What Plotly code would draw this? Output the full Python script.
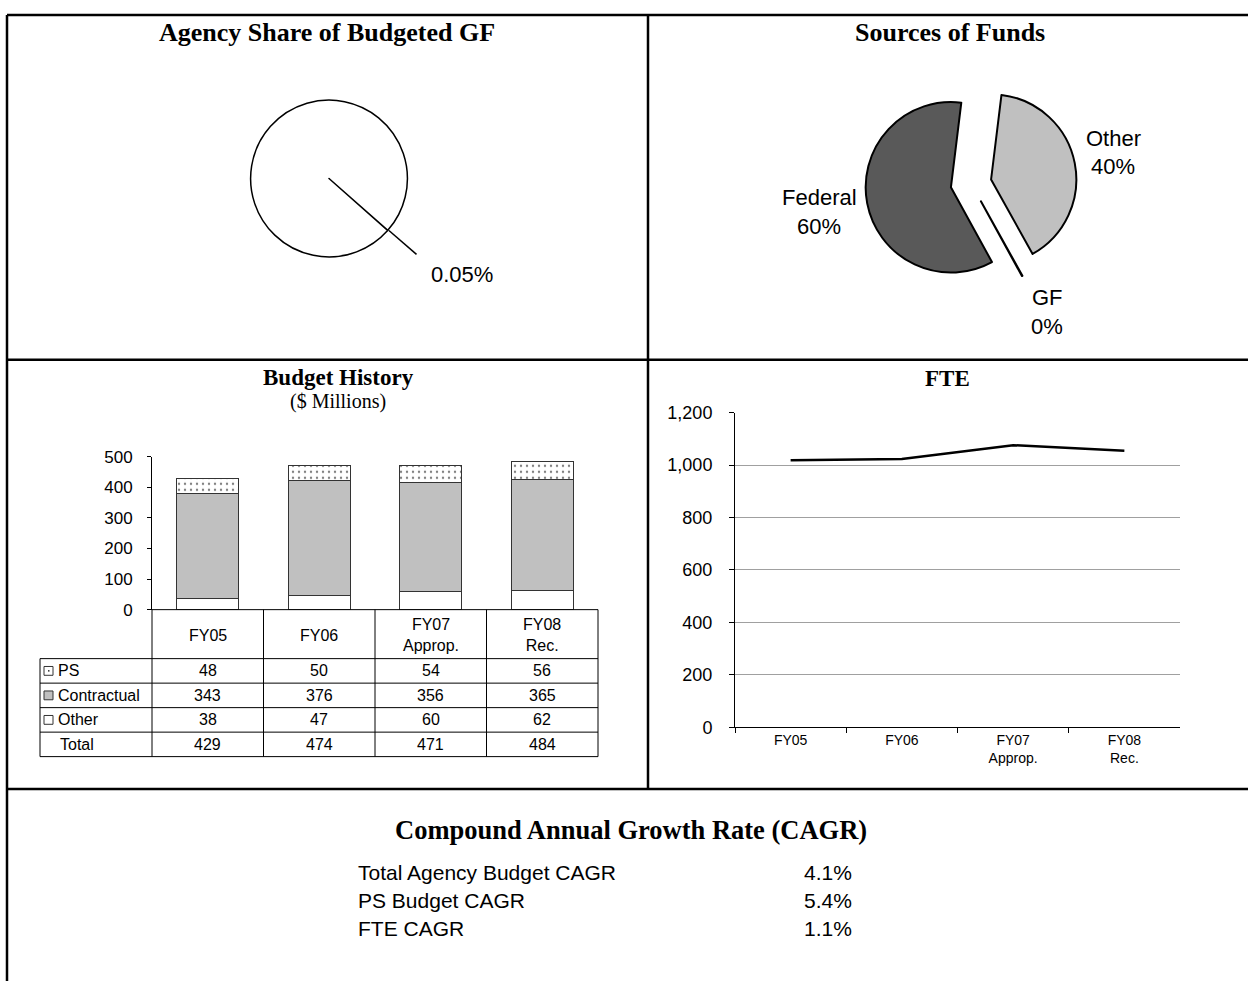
import math
import plotly.graph_objects as go

W, H = 1248, 991

# ---------------- data ----------------
gf_share_labels = ["Agency", "Rest of GF"]
gf_share_values = [0.05, 99.95]
gf_share_text = "0.05%"

fund_labels = ["Other", "GF", "Federal"]
fund_values = [40, 0.1, 60]
fund_pct_text = ["40%", "0%", "60%"]
fund_colors = ["#c0c0c0", "#ffffff", "#595959"]

years = ["FY05", "FY06", "FY07<br>Approp.", "FY08<br>Rec."]
ps = [48, 50, 54, 56]
contractual = [343, 376, 356, 365]
other = [38, 47, 60, 62]
total = [429, 474, 471, 484]

fte = [1019, 1023, 1076, 1055]

cagr_labels = ["Total Agency Budget CAGR", "PS Budget CAGR", "FTE CAGR"]
cagr_values = ["4.1%", "5.4%", "1.1%"]

SANS = "Liberation Sans, Arial, sans-serif"
SERIF = "Liberation Serif, Times New Roman, serif"


def px(x):
    return x / W


def py(y):
    return 1 - y / H


fig = go.Figure()
shapes = []
annots = []


def title(text, x, y, size=26, bold=True, family=SERIF):
    annots.append(dict(text=("<b>%s</b>" % text) if bold else text, x=px(x), y=py(y),
                       xref="paper", yref="paper", showarrow=False,
                       xanchor="center", yanchor="middle",
                       font=dict(family=family, size=size, color="black")))


def label(text, x, y, size=21, anchor="center"):
    annots.append(dict(text=text, x=px(x), y=py(y), xref="paper", yref="paper",
                       showarrow=False, xanchor=anchor, yanchor="middle",
                       font=dict(family=SANS, size=size, color="black")))


def line(x0, y0, x1, y1, w=2.5, color="black"):
    shapes.append(dict(type="line", xref="paper", yref="paper",
                       x0=px(x0), y0=py(y0), x1=px(x1), y1=py(y1),
                       line=dict(color=color, width=w), layer="above"))


# ---------------- panel borders ----------------
line(7, 5, W, 5)
line(7, 5, 7, H)
line(648, 5, 648, 795)
line(7, 357, W, 357)
line(7, 795, W, 795)

# ---------------- pie 1: agency share of GF ----------------
p1_cx, p1_cy, p1_r = 329, 172, 80
p1_rot = 131.4
fig.add_trace(go.Pie(
    labels=gf_share_labels, values=gf_share_values, sort=False,
    direction="clockwise", rotation=p1_rot, textinfo="none", hoverinfo="skip",
    marker=dict(colors=["white", "white"], line=dict(color="black", width=1.5)),
    domain=dict(x=[px(p1_cx - p1_r), px(p1_cx + p1_r)], y=[py(p1_cy + p1_r), py(p1_cy - p1_r)]),
    showlegend=False))
mid_ang = math.radians(p1_rot + 0.5 * gf_share_values[0] / sum(gf_share_values) * 360)
lx0 = p1_cx + p1_r * math.sin(mid_ang)
ly0 = p1_cy - p1_r * math.cos(mid_ang)
lx1 = p1_cx + 1.46 * p1_r * math.sin(mid_ang)
ly1 = p1_cy - 1.46 * p1_r * math.cos(mid_ang)
line(lx0, ly0, lx1, ly1, w=1.5)
label(gf_share_text, 462, 270, size=22)
title("Agency Share of Budgeted GF", 327, 23)

# ---------------- pie 2: sources of funds ----------------
p2_cx, p2_cy, p2_r, pull = 971, 177, 87, 0.24
half = p2_r * (1 + pull)
fig.add_trace(go.Pie(
    labels=fund_labels, values=fund_values, sort=False,
    direction="clockwise", rotation=7, textinfo="none", hoverinfo="skip",
    pull=[pull] * len(fund_values),
    marker=dict(colors=fund_colors, line=dict(color="black", width=2)),
    domain=dict(x=[px(p2_cx - half), px(p2_cx + half)], y=[py(p2_cy + half), py(p2_cy - half)]),
    showlegend=False))
fund_label_pos = {"Other": (1113, 131, 160), "GF": (1047, 293, 323), "Federal": (819, 191, 221)}
for lab, pct in zip(fund_labels, fund_pct_text):
    x, y1, y2 = fund_label_pos[lab]
    label(lab, x, y1, size=22)
    label(pct, x, y2, size=22)
title("Sources of Funds", 950, 23)

# ---------------- budget history bars ----------------
bx0, bx1 = 152, 598
by_top, by_bot = 456, 612
bar_style = dict(line=dict(color="#333333", width=1))
fig.add_trace(go.Bar(x=years, y=other, name="Other", width=0.56,
                     marker=dict(color="white", **bar_style), xaxis="x", yaxis="y",
                     showlegend=False, hoverinfo="skip"))
fig.add_trace(go.Bar(x=years, y=contractual, name="Contractual", width=0.56,
                     marker=dict(color="#c0c0c0", **bar_style), xaxis="x", yaxis="y",
                     showlegend=False, hoverinfo="skip"))
fig.add_trace(go.Bar(x=years, y=ps, name="PS", width=0.56,
                     marker=dict(color="white", pattern=dict(shape=".", fgcolor="black", bgcolor="white",
                                                             size=6, solidity=0.12), **bar_style),
                     xaxis="x", yaxis="y", showlegend=False, hoverinfo="skip"))
annots.append(dict(
    text="<span style='font-family:Liberation Serif;font-size:23px'><b>Budget History</b></span><br>"
         "<span style='font-family:Liberation Serif;font-size:20px'>($ Millions)</span>",
    x=px(338), y=py(387), xref="paper", yref="paper", showarrow=False,
    xanchor="center", yanchor="middle", align="center",
    font=dict(family=SERIF, size=18, color="black")))

# data table under the bars
col_w = (bx1 - bx0) / len(years)
edges = [bx0 + i * col_w for i in range(len(years) + 1)]
tbl_left = 40
hdr_bot = 662
row_h = 25
rows = [("PS", ps), ("Contractual", contractual), ("Other", other), ("Total", total)]
tbl_bot = hdr_bot + row_h * len(rows)
line(bx0, by_bot, bx1, by_bot, w=1)
for e in edges:
    line(e, by_bot, e, tbl_bot, w=1)
line(tbl_left, hdr_bot, tbl_left, tbl_bot, w=1)
for i in range(len(rows) + 1):
    yy = hdr_bot + i * row_h
    line(tbl_left, yy, bx1, yy, w=1)
for j, yr in enumerate(years):
    cx = (edges[j] + edges[j + 1]) / 2
    label(yr, cx, 638, size=16)
key_fill = {"PS": "white", "Contractual": "#c0c0c0", "Other": "white"}
for i, (name, vals) in enumerate(rows):
    cy = hdr_bot + row_h * (i + 0.5)
    label(name, 56 if name != "Total" else 58, cy, size=16, anchor="left")
    if name in key_fill:
        shapes.append(dict(type="rect", xref="paper", yref="paper",
                           x0=px(44), x1=px(53), y0=py(cy + 4.5), y1=py(cy - 4.5),
                           fillcolor=key_fill[name], line=dict(color="#333333", width=1), layer="above"))
        if name == "PS":
            shapes.append(dict(type="rect", xref="paper", yref="paper",
                               x0=px(48), x1=px(49.5), y0=py(cy + 0.75), y1=py(cy - 0.75),
                               fillcolor="black", line=dict(width=0), layer="above"))
    for j, v in enumerate(vals):
        cx = (edges[j] + edges[j + 1]) / 2
        label(str(v), cx, cy, size=16)

# ---------------- FTE line ----------------
fig.add_trace(go.Scatter(x=years, y=fte, mode="lines", line=dict(color="black", width=2.5),
                         xaxis="x2", yaxis="y2", showlegend=False, hoverinfo="skip"))
title("FTE", 947, 376, size=23)

# ---------------- CAGR ----------------
title("Compound Annual Growth Rate (CAGR)", 631, 837, size=26.5)
for i, (lab, val) in enumerate(zip(cagr_labels, cagr_values)):
    yy = 880 + i * 28.5
    label(lab, 356, yy, size=21, anchor="left")
    label(val, 802, yy, size=21, anchor="left")

fig.update_layout(
    width=W, height=H, autosize=False,
    margin=dict(l=0, r=0, t=0, b=0),
    paper_bgcolor="white", plot_bgcolor="white",
    barmode="stack", bargap=0.44,
    shapes=shapes, annotations=annots,
    xaxis=dict(domain=[px(bx0), px(bx1)], type="category", range=[-0.5, 3.5],
               showticklabels=False, showline=False, showgrid=False, ticks="", zeroline=False),
    yaxis=dict(domain=[py(by_bot), py(by_top)], range=[0, 500], tickvals=[0, 100, 200, 300, 400, 500],
               showline=True, linecolor="black", linewidth=1, ticks="outside", ticklen=4,
               tickcolor="black", showgrid=False, zeroline=False, ticklabelstandoff=11,
               tickfont=dict(family=SANS, size=17, color="black")),
    xaxis2=dict(domain=[px(735), px(1180)], type="category", range=[-0.5, 3.5], anchor="y2",
                tickson="boundaries", ticks="outside", ticklen=5, tickcolor="black",
                showline=True, linecolor="black", linewidth=1, showgrid=False,
                tickfont=dict(family=SANS, size=14, color="black")),
    yaxis2=dict(domain=[py(732), py(411)], range=[0, 1200], dtick=200, tickformat=",", anchor="x2",
                showline=True, linecolor="black", linewidth=1, ticks="outside", ticklen=5,
                tickcolor="black", showgrid=True, gridcolor="#a0a0a0", gridwidth=1, zeroline=False,
                ticklabelstandoff=13, tickfont=dict(family=SANS, size=18, color="black")),
)

post = ("document.documentElement.style.margin='0';"
        "document.body.style.margin='0';document.body.style.overflow='hidden';"
        "var gd=document.getElementById('{plot_id}');"
        "gd.style.position='fixed';gd.style.left='0px';gd.style.top='0px';")
fig.write_html("out.html", config={"displayModeBar": False}, post_script=post)
